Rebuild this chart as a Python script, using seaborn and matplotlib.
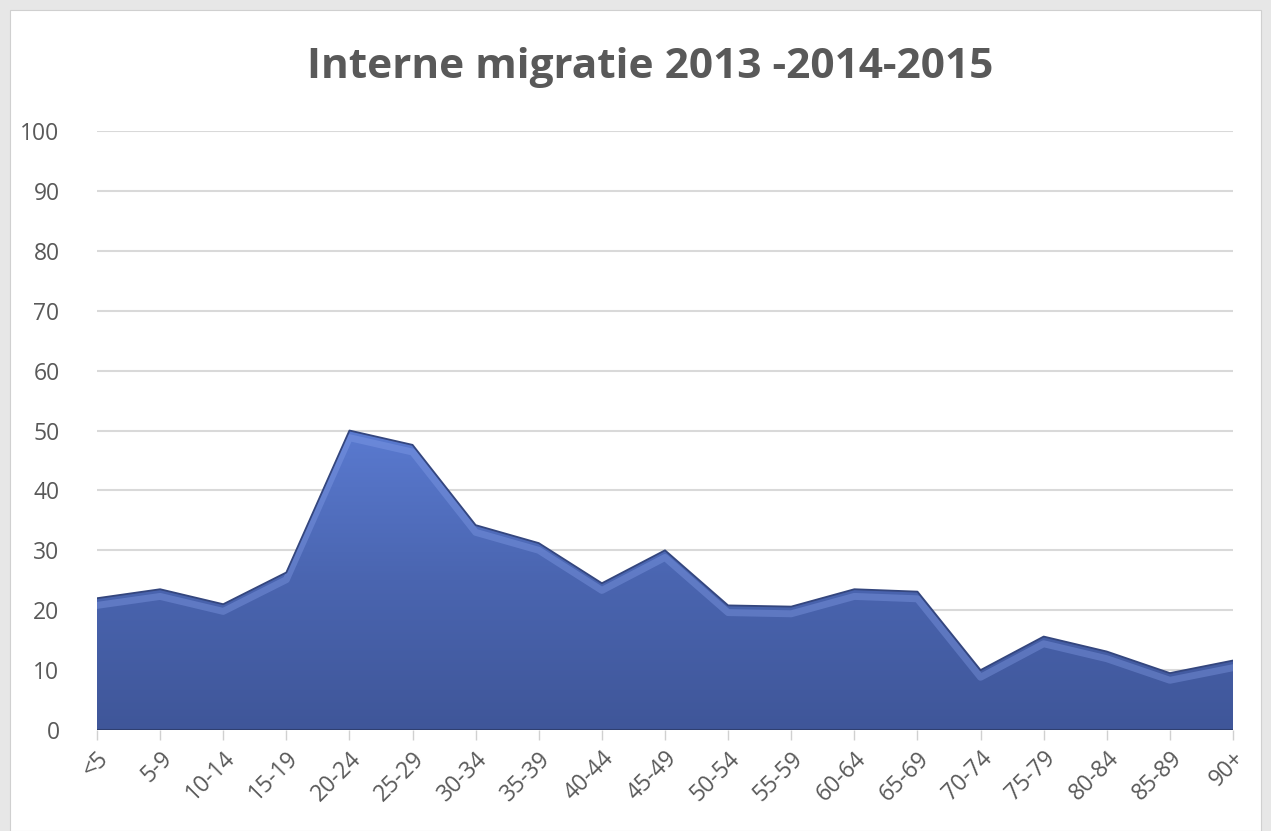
import numpy as np
import pandas as pd
import seaborn as sns
import matplotlib.pyplot as plt
from matplotlib.patches import Rectangle, Polygon
from matplotlib.colors import LinearSegmentedColormap

# Data
leeftijd = ['<5', '5-9', '10-14', '15-19', '20-24', '25-29', '30-34', '35-39', '40-44',
            '45-49', '50-54', '55-59', '60-64', '65-69', '70-74', '75-79', '80-84',
            '85-89', '90+']
migratie = [22, 23.5, 21, 26.3, 50, 47.6, 34.2, 31.2, 24.5,
            30, 20.8, 20.6, 23.5, 23.1, 10, 15.6, 13.1, 9.5, 11.6]
y_ticks = list(range(0, 101, 10))

df = pd.DataFrame({'leeftijd': leeftijd, 'migratie': migratie})
df['pos'] = np.arange(len(df))

sns.set_style('white')
plt.rcParams['font.family'] = ['Open Sans', 'DejaVu Sans']

fig = plt.figure(figsize=(12.71, 8.31), dpi=100)
fig.patch.set_facecolor('#e7e7e7')
# white chart card behind everything
fig.patches.append(Rectangle((10 / 1271, 0), 1 - 20 / 1271, 1 - 10 / 831,
                             transform=fig.transFigure, facecolor='white',
                             edgecolor='#d0d0d0', lw=0.8, zorder=-10))

ax = fig.add_axes([97 / 1271, 101 / 831, (1233 - 97) / 1271, 599 / 831])
ax.set_facecolor('none')

# gradient filled area
xs = df['pos'].to_numpy()
ys = df['migratie'].to_numpy()
verts = [(xs[0], 0)] + list(zip(xs, ys)) + [(xs[-1], 0)]
poly = Polygon(verts, closed=True, facecolor='none', edgecolor='none')
ax.add_patch(poly)
grad = np.linspace(0, 1, 256).reshape(-1, 1)
cmap = LinearSegmentedColormap.from_list('blauw', ['#3f5699', '#4a65b0', '#5a7ad0'])
img = ax.imshow(grad, cmap=cmap, aspect='auto', origin='lower',
                extent=[xs[0], xs[-1], 0, ys.max()], zorder=2)
img.set_clip_path(poly)

# soft highlight along top edge, then dark outline
sns.lineplot(x=df['pos'], y=df['migratie'] - 1.2, color='#8aa4ee', lw=5, alpha=0.35,
             ax=ax, zorder=2.5)
sns.lineplot(data=df, x='pos', y='migratie', color='#34467e', lw=1.3, ax=ax, zorder=3)
ax.plot([xs[0], xs[-1]], [0, 0], color='#2f3f70', lw=1.5, zorder=3)

ax.set_xlim(xs[0], xs[-1])
ax.set_ylim(0, 100)
ax.set_yticks(y_ticks)
ax.set_yticklabels([str(v) for v in y_ticks])
ax.set_xticks(xs)
ax.set_xticklabels(leeftijd, rotation=45, ha='right', rotation_mode='anchor')
ax.yaxis.grid(True, color='#d9d9d9', lw=1.5, zorder=0)
ax.set_axisbelow(True)
for s in ax.spines.values():
    s.set_visible(False)
ax.tick_params(axis='y', length=0, pad=27, labelsize=16.5, labelcolor='#595959')
ax.tick_params(axis='x', length=7, width=1, color='#d0d0d0', direction='out',
               pad=5, labelsize=16.5, labelcolor='#595959', bottom=True)
ax.set_xlabel('')
ax.set_ylabel('')

fig.text(650 / 1271, 1 - 68 / 831, 'Interne migratie 2013 -2014-2015', ha='center',
         va='center', fontsize=30.5, fontweight='bold', color='#595959',
         family=['Open Sans', 'DejaVu Sans'])

fig.savefig('out.png', dpi=100, facecolor=fig.get_facecolor())
